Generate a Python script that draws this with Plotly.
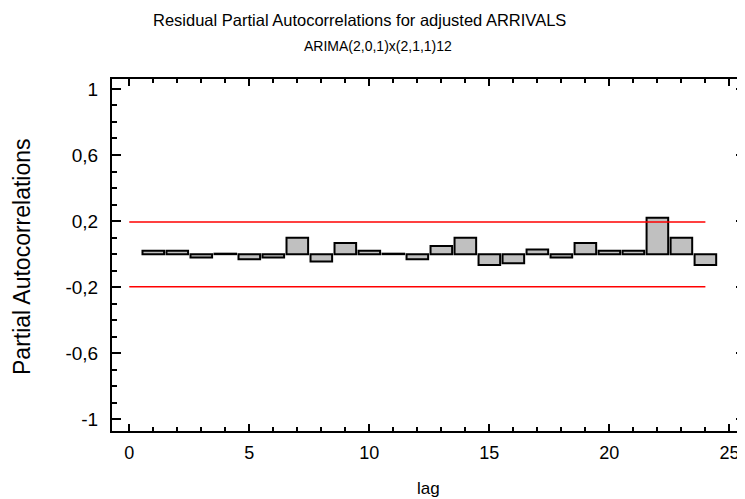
import plotly.graph_objects as go

lags = list(range(1, 25))
pacf = [0.02, 0.02, -0.02, 0.003, -0.03, -0.02, 0.10, -0.045, 0.067, 0.02, 0.003, -0.03,
        0.05, 0.10, -0.065, -0.055, 0.028, -0.02, 0.067, 0.02, 0.02, 0.22, 0.10, -0.065]
limit_lags = [0, 24]
upper_limit = [0.195, 0.195]
lower_limit = [-0.197, -0.197]

title_line1 = "Residual Partial Autocorrelations for adjusted ARRIVALS"
title_line2 = "ARIMA(2,0,1)x(2,1,1)12"
x_title = "lag"
y_title = "Partial Autocorrelations"

FONT = "Liberation Sans, Arial, sans-serif"
OFF = 8  # default page body margin
W, H = 745 - OFF, 499 - OFF
ML, MR, MT, MB = 112 - OFF, 0, 79 - OFF, 68
PW, PH = W - ML - MR, H - MT - MB


def px_x(x):
    return (x - OFF - ML) / PW


def px_y(y):
    return 1 - (y - OFF - MT) / PH


fig = go.Figure()
fig.add_trace(go.Bar(x=lags, y=pacf, width=0.9,
                     marker=dict(color="#c0c0c0", line=dict(color="black", width=2)),
                     showlegend=False))
fig.add_trace(go.Scatter(x=limit_lags, y=upper_limit, mode="lines",
                         line=dict(color="#ff0000", width=1.6), showlegend=False))
fig.add_trace(go.Scatter(x=limit_lags, y=lower_limit, mode="lines",
                         line=dict(color="#ff0000", width=1.6), showlegend=False))

fig.update_layout(
    width=W, height=H,
    margin=dict(l=ML, r=MR, t=MT, b=MB),
    paper_bgcolor="white", plot_bgcolor="white",
    separators=",.",
    font=dict(family=FONT, size=18, color="black"),
    annotations=[
        dict(text=title_line1, x=px_x(359), y=px_y(20), xref="paper", yref="paper",
             showarrow=False, font=dict(size=16.5), xanchor="center", yanchor="middle"),
        dict(text=title_line2, x=px_x(378), y=px_y(46), xref="paper", yref="paper",
             showarrow=False, font=dict(size=14), xanchor="center", yanchor="middle"),
        dict(text=x_title, x=px_x(428), y=px_y(488), xref="paper", yref="paper",
             showarrow=False, font=dict(size=17), xanchor="center", yanchor="middle"),
        dict(text=y_title, x=px_x(22), y=px_y(257), xref="paper", yref="paper",
             showarrow=False, font=dict(size=23), textangle=-90,
             xanchor="center", yanchor="middle"),
    ],
)

fig.update_xaxes(range=[-0.72, 25.65], tickmode="linear", tick0=0, dtick=5,
                 ticks="inside", ticklen=7, tickwidth=1.5, tickcolor="black",
                 minor=dict(dtick=1, tick0=0, ticks="inside", ticklen=4, tickwidth=1.5, tickcolor="black"),
                 showline=True, linecolor="black", linewidth=2, mirror="ticks",
                 showgrid=False, zeroline=False, automargin=False,
                 ticklabelstandoff=4, tickfont=dict(size=18))
fig.update_yaxes(range=[-1.07, 1.06], tickmode="array",
                 tickvals=[-1, -0.6, -0.2, 0.2, 0.6, 1],
                 ticktext=["-1", "-0,6", "-0,2", "0,2", "0,6", "1"],
                 ticks="inside", ticklen=9, tickwidth=1.5, tickcolor="black",
                 minor=dict(dtick=0.1, tick0=-1, ticks="inside", ticklen=5, tickwidth=1.5, tickcolor="black"),
                 showline=True, linecolor="black", linewidth=2, mirror="ticks",
                 showgrid=False, zeroline=False, automargin=False,
                 ticklabelstandoff=8, tickfont=dict(size=19))

fig.write_html("out.html")
